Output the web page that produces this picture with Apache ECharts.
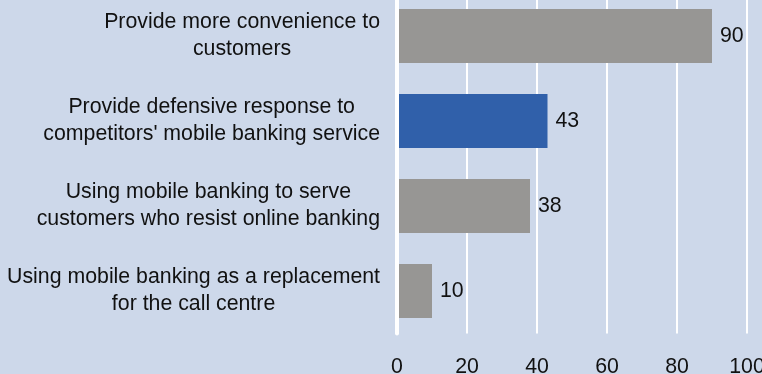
<!DOCTYPE html>
<html>
<head>
<meta charset="utf-8">
<script src="https://cdn.jsdelivr.net/npm/echarts@6/dist/echarts.min.js"></script>
<style>
  html, body { margin: 0; padding: 0; background: #cdd8ea; overflow: hidden; }
  #chart { width: 762px; height: 374px; }
</style>
</head>
<body>
<div id="chart"></div>
<script>
// Reasons for offering mobile banking (top to bottom)
const categories = [
  'Provide more convenience to\ncustomers',
  'Provide defensive response to\ncompetitors\' mobile banking service',
  'Using mobile banking to serve\ncustomers who resist online banking',
  'Using mobile banking as a replacement\nfor the call centre'
];
const values = [90, 43, 38, 10];
const xTicks = [0, 20, 40, 60, 80, 100];

const FONT = '"Liberation Sans", Arial, sans-serif';
const FONT_SIZE = 21.3;
const TEXT = '#111111';
const GRAY = '#979694';
const BLUE = '#3060aa';
const HIGHLIGHT_INDEX = 1;

const chart = echarts.init(document.getElementById('chart'), null, { renderer: 'canvas' });

chart.setOption({
  backgroundColor: '#cdd8ea',
  animation: false,
  grid: {
    left: 397, right: 15, top: -6.5, bottom: 40.5,
    containLabel: false,
    outerBoundsMode: 'none'
  },
  xAxis: {
    type: 'value',
    min: xTicks[0],
    max: xTicks[xTicks.length - 1],
    interval: xTicks[1] - xTicks[0],
    axisLine: { show: false },
    axisTick: { show: false },
    splitLine: { show: true, lineStyle: { color: '#ffffff', width: 2 } },
    axisLabel: {
      color: TEXT,
      fontSize: FONT_SIZE,
      fontFamily: FONT,
      margin: 23,
      hideOverlap: false
    }
  },
  yAxis: {
    type: 'category',
    inverse: true,
    data: categories,
    axisLine: { show: true, lineStyle: { color: '#ffffff', width: 4 } },
    axisTick: { show: false },
    z: 5,
    axisLabel: {
      margin: 17,
      align: 'right',
      color: TEXT,
      fontSize: FONT_SIZE,
      fontFamily: FONT,
      lineHeight: 27,
      // each line is centred inside the right-aligned label block
      formatter: function (v) {
        return v.split('\n').map(function (l) { return '{c|' + l + '}'; }).join('\n');
      },
      rich: {
        c: {
          align: 'center',
          fontSize: FONT_SIZE,
          fontFamily: FONT,
          color: TEXT,
          lineHeight: 27
        }
      }
    }
  },
  series: [{
    type: 'bar',
    data: values,
    barWidth: 54,
    itemStyle: {
      color: function (p) { return p.dataIndex === HIGHLIGHT_INDEX ? BLUE : GRAY; }
    },
    label: {
      show: true,
      position: 'right',
      distance: 8,
      color: TEXT,
      fontSize: FONT_SIZE,
      fontFamily: FONT
    }
  }]
});
</script>
</body>
</html>
